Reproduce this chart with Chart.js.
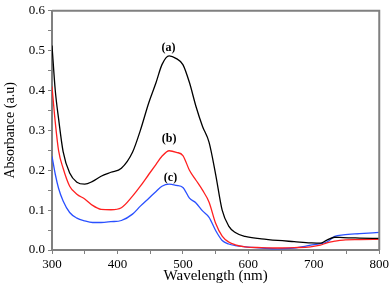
<!DOCTYPE html>
<html><head><meta charset="utf-8">
<script src="https://cdn.jsdelivr.net/npm/chart.js@4/dist/chart.umd.min.js"></script>
<style>html,body{margin:0;padding:0;background:#fff}#wrap{width:392px;height:287px}</style>
</head><body><div id="wrap"><canvas id="c" width="392" height="287"></canvas></div>
<script>
const wavelengths = [300,305,310,317,327,338,350,362,375,390,406,423,435,448,459,468,479,490,500,510,520,530,540,550,560,570,580,595,620,645,670,695,710,720,732,745,770,800];
const seriesA = [0.513,0.40,0.33,0.247,0.193,0.170,0.165,0.172,0.185,0.195,0.205,0.245,0.30,0.37,0.42,0.465,0.487,0.48,0.465,0.42,0.36,0.31,0.27,0.19,0.10,0.06,0.044,0.034,0.028,0.024,0.021,0.018,0.017,0.025,0.032,0.031,0.030,0.029];
const seriesB = [0.41,0.32,0.25,0.205,0.16,0.14,0.128,0.112,0.102,0.101,0.106,0.135,0.16,0.19,0.215,0.235,0.249,0.245,0.237,0.20,0.175,0.15,0.12,0.067,0.035,0.02,0.013,0.008,0.006,0.005,0.006,0.008,0.012,0.018,0.022,0.025,0.026,0.027];
const seriesC = [0.235,0.19,0.155,0.123,0.094,0.08,0.073,0.069,0.069,0.071,0.074,0.09,0.11,0.13,0.147,0.16,0.165,0.162,0.157,0.13,0.118,0.098,0.082,0.049,0.024,0.015,0.011,0.008,0.005,0.003,0.005,0.012,0.016,0.02,0.034,0.038,0.041,0.044];
const seriesNames = ['(a)','(b)','(c)'];
const labelPos = [[478,0.508],[479,0.278],[481,0.181]];
const xTicks = [300,400,500,600,700,800];
const yTicks = [0.0,0.1,0.2,0.3,0.4,0.5,0.6];

const pts = arr => wavelengths.map((w,i)=>({x:w,y:arr[i]}));
const serif = "'Liberation Serif','Times New Roman',serif";

const frame = {
  id:'frame',
  afterDatasetsDraw(chart){
    const {ctx, chartArea:a} = chart;
    ctx.save();
    ctx.strokeStyle='#808080'; ctx.lineWidth=2;
    ctx.beginPath();
    ctx.moveTo(a.left,a.top); ctx.lineTo(a.right,a.top); ctx.lineTo(a.right,a.bottom);
    ctx.stroke();
    ctx.font = "bold 12px "+serif; ctx.fillStyle='#000'; ctx.textAlign='center'; ctx.textBaseline='middle';
    const xs=chart.scales.x, ys=chart.scales.y;
    labelPos.forEach((p,i)=>ctx.fillText(seriesNames[i], xs.getPixelForValue(p[0]), ys.getPixelForValue(p[1])));
    ctx.restore();
  }
};

const ds = (i,arr,col)=>({label:seriesNames[i],data:pts(arr),borderColor:col,borderWidth:1.3,pointRadius:0,cubicInterpolationMode:'monotone',fill:false});

new Chart(document.getElementById('c'),{
  type:'line',
  data:{datasets:[ds(0,seriesA,'#000000'),ds(1,seriesB,'#ff2020'),ds(2,seriesC,'#2a50ff')]},
  options:{
    responsive:false,animation:false,
    layout:{padding:{top:7,right:10,left:0,bottom:0}},
    plugins:{legend:{display:false},tooltip:{enabled:false}},
    scales:{
      x:{type:'linear',min:300,max:800,
        afterFit(s){s.height=37;},
        border:{color:'#808080',width:2},
        grid:{drawOnChartArea:false,tickLength:4,color:'#808080',lineWidth:1},
        ticks:{stepSize:50,autoSkip:false,maxRotation:0,padding:3,color:'#000',font:{family:serif,size:13},
          callback:v=>xTicks.includes(v)?String(v):''},
        title:{display:true,text:'Wavelength (nm)',color:'#000',font:{family:serif,size:15},padding:{top:0,bottom:2}}
      },
      y:{min:0,max:0.6,
        afterFit(s){s.width=52;},
        border:{color:'#808080',width:2},
        grid:{drawOnChartArea:false,tickLength:4,color:'#808080',lineWidth:1},
        ticks:{stepSize:0.05,autoSkip:false,padding:3,color:'#000',font:{family:serif,size:13},
          callback:v=>{const r=Math.round(v*100)/100; return yTicks.some(t=>Math.abs(t-r)<1e-6)?r.toFixed(1):'';}},
        title:{display:true,text:'Absorbance (a.u)',color:'#000',font:{family:serif,size:14},padding:{top:2,bottom:0}}
      }
    }
  },
  plugins:[frame]
});
</script></body></html>
